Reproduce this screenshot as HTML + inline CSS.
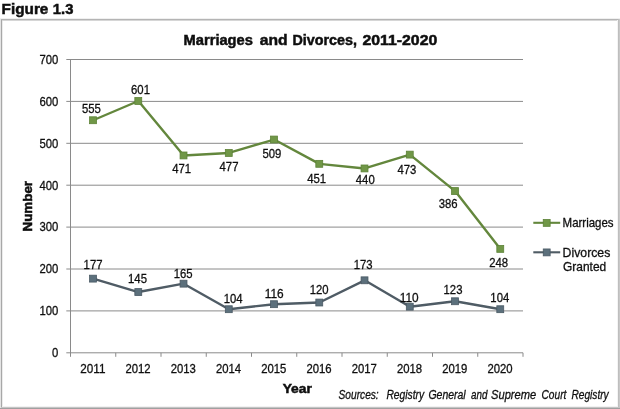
<!DOCTYPE html>
<html><head><meta charset="utf-8"><title>Figure 1.3</title>
<style>html,body{margin:0;padding:0;background:#fff;overflow:hidden;}svg{display:block;}text{font-family:"Liberation Sans",sans-serif;fill:#111;stroke:#111;stroke-width:0.3px;}text.b{font-weight:bold;stroke-width:0.5px;}</style></head><body>
<svg width="620" height="409" viewBox="0 0 620 409">
<rect width="620" height="409" fill="#fff"/>
<rect x="0" y="19" width="1" height="390" fill="#e4e4e4"/>
<rect x="1" y="19" width="1" height="390" fill="#a8a8a8"/>
<rect x="2" y="20" width="1" height="387" fill="#ececec"/>
<rect x="0" y="18" width="620" height="1" fill="#f0f0f0"/>
<rect x="1" y="19" width="619" height="1" fill="#b4b4b4"/>
<rect x="2" y="20" width="616" height="1" fill="#d6d6d6"/>
<rect x="617" y="20" width="1" height="387" fill="#f4f4f4"/>
<rect x="618" y="19" width="1" height="390" fill="#bebebe"/>
<rect x="619" y="19" width="1" height="390" fill="#c8c8c8"/>
<rect x="2" y="406" width="616" height="1" fill="#f2f2f2"/>
<rect x="1" y="407" width="619" height="1" fill="#c4c4c4"/>
<rect x="0" y="408" width="620" height="1" fill="#a0a0a0"/>
<defs><filter id="soft" x="0" y="0" width="620" height="409" filterUnits="userSpaceOnUse"><feGaussianBlur stdDeviation="0.38"/></filter></defs>
<g filter="url(#soft)">
<text y="13.7" font-size="15.1" class="b"><tspan x="1.6" textLength="46.8" lengthAdjust="spacingAndGlyphs">Figure</tspan> <tspan x="52.8" textLength="20.6" lengthAdjust="spacingAndGlyphs">1.3</tspan></text>
<text y="44.5" font-size="14.5" class="b"><tspan x="183.6" textLength="69.3" lengthAdjust="spacingAndGlyphs">Marriages</tspan> <tspan x="259.7" textLength="27.8" lengthAdjust="spacingAndGlyphs">and</tspan> <tspan x="292.4" textLength="64.5" lengthAdjust="spacingAndGlyphs">Divorces,</tspan> <tspan x="362.4" textLength="74.9" lengthAdjust="spacingAndGlyphs">2011-2020</tspan></text>
<line x1="66.30" x2="523.00" y1="310.90" y2="310.90" stroke="#8a8a8a" stroke-width="1"/>
<line x1="66.30" x2="523.00" y1="269.00" y2="269.00" stroke="#8a8a8a" stroke-width="1"/>
<line x1="66.30" x2="523.00" y1="227.10" y2="227.10" stroke="#8a8a8a" stroke-width="1"/>
<line x1="66.30" x2="523.00" y1="185.20" y2="185.20" stroke="#8a8a8a" stroke-width="1"/>
<line x1="66.30" x2="523.00" y1="143.30" y2="143.30" stroke="#8a8a8a" stroke-width="1"/>
<line x1="66.30" x2="523.00" y1="101.40" y2="101.40" stroke="#8a8a8a" stroke-width="1"/>
<line x1="66.30" x2="523.00" y1="59.50" y2="59.50" stroke="#8a8a8a" stroke-width="1"/>
<line x1="66.30" x2="523.00" y1="352.80" y2="352.80" stroke="#8a8a8a" stroke-width="1"/>
<line x1="70.50" x2="70.50" y1="59.00" y2="356.80" stroke="#8a8a8a" stroke-width="1"/>
<line x1="115.75" x2="115.75" y1="352.80" y2="356.80" stroke="#8a8a8a" stroke-width="1"/>
<line x1="161.00" x2="161.00" y1="352.80" y2="356.80" stroke="#8a8a8a" stroke-width="1"/>
<line x1="206.25" x2="206.25" y1="352.80" y2="356.80" stroke="#8a8a8a" stroke-width="1"/>
<line x1="251.50" x2="251.50" y1="352.80" y2="356.80" stroke="#8a8a8a" stroke-width="1"/>
<line x1="296.75" x2="296.75" y1="352.80" y2="356.80" stroke="#8a8a8a" stroke-width="1"/>
<line x1="342.00" x2="342.00" y1="352.80" y2="356.80" stroke="#8a8a8a" stroke-width="1"/>
<line x1="387.25" x2="387.25" y1="352.80" y2="356.80" stroke="#8a8a8a" stroke-width="1"/>
<line x1="432.50" x2="432.50" y1="352.80" y2="356.80" stroke="#8a8a8a" stroke-width="1"/>
<line x1="477.75" x2="477.75" y1="352.80" y2="356.80" stroke="#8a8a8a" stroke-width="1"/>
<line x1="523.00" x2="523.00" y1="352.80" y2="356.80" stroke="#8a8a8a" stroke-width="1"/>
<text x="52.00" y="357.15" font-size="12.2" textLength="6.30" lengthAdjust="spacingAndGlyphs">0</text>
<text x="39.40" y="315.25" font-size="12.2" textLength="18.90" lengthAdjust="spacingAndGlyphs">100</text>
<text x="39.40" y="273.35" font-size="12.2" textLength="18.90" lengthAdjust="spacingAndGlyphs">200</text>
<text x="39.40" y="231.45" font-size="12.2" textLength="18.90" lengthAdjust="spacingAndGlyphs">300</text>
<text x="39.40" y="189.55" font-size="12.2" textLength="18.90" lengthAdjust="spacingAndGlyphs">400</text>
<text x="39.40" y="147.65" font-size="12.2" textLength="18.90" lengthAdjust="spacingAndGlyphs">500</text>
<text x="39.40" y="105.75" font-size="12.2" textLength="18.90" lengthAdjust="spacingAndGlyphs">600</text>
<text x="39.40" y="63.85" font-size="12.2" textLength="18.90" lengthAdjust="spacingAndGlyphs">700</text>
<text x="80.23" y="373.40" font-size="12.2" textLength="25.20" lengthAdjust="spacingAndGlyphs">2011</text>
<text x="125.47" y="373.40" font-size="12.2" textLength="25.20" lengthAdjust="spacingAndGlyphs">2012</text>
<text x="170.72" y="373.40" font-size="12.2" textLength="25.20" lengthAdjust="spacingAndGlyphs">2013</text>
<text x="215.97" y="373.40" font-size="12.2" textLength="25.20" lengthAdjust="spacingAndGlyphs">2014</text>
<text x="261.22" y="373.40" font-size="12.2" textLength="25.20" lengthAdjust="spacingAndGlyphs">2015</text>
<text x="306.47" y="373.40" font-size="12.2" textLength="25.20" lengthAdjust="spacingAndGlyphs">2016</text>
<text x="351.72" y="373.40" font-size="12.2" textLength="25.20" lengthAdjust="spacingAndGlyphs">2017</text>
<text x="396.97" y="373.40" font-size="12.2" textLength="25.20" lengthAdjust="spacingAndGlyphs">2018</text>
<text x="442.22" y="373.40" font-size="12.2" textLength="25.20" lengthAdjust="spacingAndGlyphs">2019</text>
<text x="487.47" y="373.40" font-size="12.2" textLength="25.20" lengthAdjust="spacingAndGlyphs">2020</text>
<text transform="translate(32,231.5) rotate(-90)" font-size="12.2" class="b" textLength="50.6" lengthAdjust="spacingAndGlyphs">Number</text>
<text x="282.7" y="392.5" font-size="12.2" class="b" textLength="29.1" lengthAdjust="spacingAndGlyphs">Year</text>
<polyline points="93.12,120.25 138.38,100.98 183.62,155.45 228.88,152.94 274.12,139.53 319.38,163.83 364.62,168.44 409.88,154.61 455.12,191.07 500.38,248.89" fill="none" stroke="#64873c" stroke-width="2.4" stroke-linejoin="round" stroke-linecap="round"/>
<rect x="89.58" y="116.80" width="6.9" height="6.9" fill="#6f9747" stroke="#5e8338" stroke-width="0.8"/>
<rect x="134.83" y="97.53" width="6.9" height="6.9" fill="#6f9747" stroke="#5e8338" stroke-width="0.8"/>
<rect x="180.08" y="152.00" width="6.9" height="6.9" fill="#6f9747" stroke="#5e8338" stroke-width="0.8"/>
<rect x="225.33" y="149.49" width="6.9" height="6.9" fill="#6f9747" stroke="#5e8338" stroke-width="0.8"/>
<rect x="270.57" y="136.08" width="6.9" height="6.9" fill="#6f9747" stroke="#5e8338" stroke-width="0.8"/>
<rect x="315.82" y="160.38" width="6.9" height="6.9" fill="#6f9747" stroke="#5e8338" stroke-width="0.8"/>
<rect x="361.07" y="164.99" width="6.9" height="6.9" fill="#6f9747" stroke="#5e8338" stroke-width="0.8"/>
<rect x="406.32" y="151.16" width="6.9" height="6.9" fill="#6f9747" stroke="#5e8338" stroke-width="0.8"/>
<rect x="451.57" y="187.62" width="6.9" height="6.9" fill="#6f9747" stroke="#5e8338" stroke-width="0.8"/>
<rect x="496.82" y="245.44" width="6.9" height="6.9" fill="#6f9747" stroke="#5e8338" stroke-width="0.8"/>
<polyline points="93.12,278.64 138.38,292.05 183.62,283.67 228.88,309.22 274.12,304.20 319.38,302.52 364.62,280.31 409.88,306.71 455.12,301.26 500.38,309.22" fill="none" stroke="#4f5b65" stroke-width="2.4" stroke-linejoin="round" stroke-linecap="round"/>
<rect x="89.58" y="275.19" width="6.9" height="6.9" fill="#5b6f7b" stroke="#4b5a65" stroke-width="0.8"/>
<rect x="134.83" y="288.60" width="6.9" height="6.9" fill="#5b6f7b" stroke="#4b5a65" stroke-width="0.8"/>
<rect x="180.08" y="280.22" width="6.9" height="6.9" fill="#5b6f7b" stroke="#4b5a65" stroke-width="0.8"/>
<rect x="225.33" y="305.77" width="6.9" height="6.9" fill="#5b6f7b" stroke="#4b5a65" stroke-width="0.8"/>
<rect x="270.57" y="300.75" width="6.9" height="6.9" fill="#5b6f7b" stroke="#4b5a65" stroke-width="0.8"/>
<rect x="315.82" y="299.07" width="6.9" height="6.9" fill="#5b6f7b" stroke="#4b5a65" stroke-width="0.8"/>
<rect x="361.07" y="276.86" width="6.9" height="6.9" fill="#5b6f7b" stroke="#4b5a65" stroke-width="0.8"/>
<rect x="406.32" y="303.26" width="6.9" height="6.9" fill="#5b6f7b" stroke="#4b5a65" stroke-width="0.8"/>
<rect x="451.57" y="297.81" width="6.9" height="6.9" fill="#5b6f7b" stroke="#4b5a65" stroke-width="0.8"/>
<rect x="496.82" y="305.77" width="6.9" height="6.9" fill="#5b6f7b" stroke="#4b5a65" stroke-width="0.8"/>
<text x="81.95" y="112.50" font-size="12.2" textLength="18.90" lengthAdjust="spacingAndGlyphs">555</text>
<text x="131.05" y="93.75" font-size="12.2" textLength="18.90" lengthAdjust="spacingAndGlyphs">601</text>
<text x="172.25" y="173.00" font-size="12.2" textLength="18.90" lengthAdjust="spacingAndGlyphs">471</text>
<text x="219.55" y="170.75" font-size="12.2" textLength="18.90" lengthAdjust="spacingAndGlyphs">477</text>
<text x="262.45" y="158.25" font-size="12.2" textLength="18.90" lengthAdjust="spacingAndGlyphs">509</text>
<text x="307.25" y="183.00" font-size="12.2" textLength="18.90" lengthAdjust="spacingAndGlyphs">451</text>
<text x="355.80" y="184.00" font-size="12.2" textLength="18.90" lengthAdjust="spacingAndGlyphs">440</text>
<text x="397.45" y="173.75" font-size="12.2" textLength="18.90" lengthAdjust="spacingAndGlyphs">473</text>
<text x="438.65" y="208.25" font-size="12.2" textLength="18.90" lengthAdjust="spacingAndGlyphs">386</text>
<text x="489.15" y="266.80" font-size="12.2" textLength="18.90" lengthAdjust="spacingAndGlyphs">248</text>
<text x="83.60" y="269.30" font-size="12.2" textLength="18.90" lengthAdjust="spacingAndGlyphs">177</text>
<text x="128.05" y="282.80" font-size="12.2" textLength="18.90" lengthAdjust="spacingAndGlyphs">145</text>
<text x="173.75" y="277.60" font-size="12.2" textLength="18.90" lengthAdjust="spacingAndGlyphs">165</text>
<text x="223.75" y="302.90" font-size="12.2" textLength="18.90" lengthAdjust="spacingAndGlyphs">104</text>
<text x="264.75" y="298.00" font-size="12.2" textLength="18.90" lengthAdjust="spacingAndGlyphs">116</text>
<text x="309.75" y="293.50" font-size="12.2" textLength="18.90" lengthAdjust="spacingAndGlyphs">120</text>
<text x="353.75" y="269.00" font-size="12.2" textLength="18.90" lengthAdjust="spacingAndGlyphs">173</text>
<text x="399.75" y="301.50" font-size="12.2" textLength="18.90" lengthAdjust="spacingAndGlyphs">110</text>
<text x="443.55" y="294.40" font-size="12.2" textLength="18.90" lengthAdjust="spacingAndGlyphs">123</text>
<text x="490.35" y="302.00" font-size="12.2" textLength="18.90" lengthAdjust="spacingAndGlyphs">104</text>
<line x1="533.3" x2="560.2" y1="222.8" y2="222.8" stroke="#64873c" stroke-width="2.1"/><rect x="543.25" y="219.45" width="6.9" height="6.9" fill="#6f9747" stroke="#5e8338" stroke-width="0.8"/>
<text x="562.6" y="227" font-size="12.2" textLength="51" lengthAdjust="spacingAndGlyphs">Marriages</text>
<line x1="533.3" x2="560.2" y1="252.3" y2="252.3" stroke="#4f5b65" stroke-width="2.1"/><rect x="543.25" y="248.95" width="6.9" height="6.9" fill="#5b6f7b" stroke="#4b5a65" stroke-width="0.8"/>
<text font-size="12.2"><tspan x="562.6" y="256.7" textLength="47.7" lengthAdjust="spacingAndGlyphs">Divorces</tspan> <tspan x="563" y="271.4" textLength="43.2" lengthAdjust="spacingAndGlyphs">Granted</tspan></text>
<text y="398.8" font-size="12.2" font-style="italic"><tspan x="338.6" textLength="40.1" lengthAdjust="spacingAndGlyphs">Sources:</tspan> <tspan x="386.4" textLength="37.7" lengthAdjust="spacingAndGlyphs">Registry</tspan> <tspan x="428.4" textLength="37.3" lengthAdjust="spacingAndGlyphs">General</tspan> <tspan x="471" textLength="16.4" lengthAdjust="spacingAndGlyphs">and</tspan> <tspan x="491" textLength="45.2" lengthAdjust="spacingAndGlyphs">Supreme</tspan> <tspan x="541.5" textLength="24.9" lengthAdjust="spacingAndGlyphs">Court</tspan> <tspan x="571.4" textLength="37.3" lengthAdjust="spacingAndGlyphs">Registry</tspan></text>
</g>
</svg></body></html>
